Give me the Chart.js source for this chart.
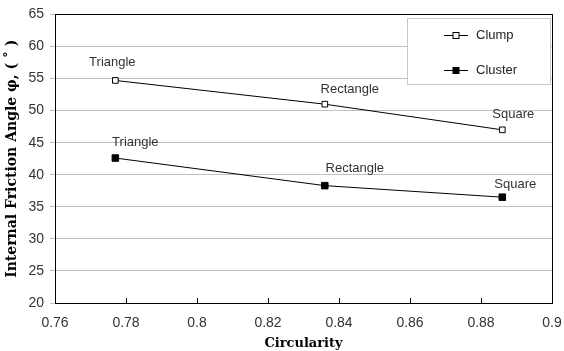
<!DOCTYPE html>
<html>
<head>
<meta charset="utf-8">
<script src="https://cdn.jsdelivr.net/npm/chart.js@4"></script>
<style>
  html, body { margin: 0; padding: 0; background: #fff; }
  #wrap { width: 564px; height: 351px; }
</style>
</head>
<body>
<div id="wrap"><canvas id="chart" width="564" height="351"></canvas></div>
<script>
// circularity of each shape and the friction angles measured for it
const shapes = ["Triangle", "Rectangle", "Square"];
const circularity = [0.777, 0.836, 0.886];
const clumpAngle = [54.7, 51.0, 47.0];
const clusterAngle = [42.6, 38.3, 36.5];

const xTicks = [0.76, 0.78, 0.8, 0.82, 0.84, 0.86, 0.88, 0.9];
const yTicks = [20, 25, 30, 35, 40, 45, 50, 55, 60, 65];

const toPoints = (ys) => circularity.map((x, i) => ({ x: x, y: ys[i] }));

// where each shape name sits relative to its marker
const labelOffsets = {
  Clump: [[-3, -18], [25, -15], [11, -15]],
  Cluster: [[20, -16], [30, -17], [13, -13]],
};

const frame = {
  id: "frame",
  beforeDatasetsDraw(chart) {
    const { ctx, chartArea: a, scales } = chart;
    ctx.save();
    ctx.strokeStyle = "#000";
    ctx.lineWidth = 1;
    // short ticks pointing into the plot along the bottom edge
    ctx.beginPath();
    xTicks.forEach((v) => {
      const px = Math.round(scales.x.getPixelForValue(v)) + 0.5;
      ctx.moveTo(px, a.bottom - 5);
      ctx.lineTo(px, a.bottom);
    });
    ctx.stroke();
    ctx.strokeRect(Math.round(a.left) + 0.5, Math.round(a.top) + 0.5,
      Math.round(a.right - a.left), Math.round(a.bottom - a.top));
    ctx.restore();
  },
  afterDatasetsDraw(chart) {
    const { ctx, scales } = chart;
    ctx.save();
    ctx.font = "13px 'Liberation Sans', Arial, sans-serif";
    ctx.fillStyle = "#333";
    ctx.textAlign = "center";
    ctx.textBaseline = "middle";
    chart.data.datasets.forEach((ds) => {
      ds.data.forEach((p, i) => {
        const off = labelOffsets[ds.label][i];
        ctx.fillText(shapes[i], scales.x.getPixelForValue(p.x) + off[0],
          scales.y.getPixelForValue(p.y) + off[1]);
      });
    });

    // legend box in the upper right corner
    const bx = 407.5, by = 18.5, bw = 143, bh = 66;
    ctx.fillStyle = "#fff";
    ctx.fillRect(bx, by, bw, bh);
    ctx.strokeStyle = "#c8c8c8";
    ctx.strokeRect(bx, by, bw, bh);
    chart.data.datasets.forEach((ds, i) => {
      const y = 35.5 + i * 35;
      ctx.strokeStyle = "#000";
      ctx.beginPath();
      ctx.moveTo(444, y);
      ctx.lineTo(468, y);
      ctx.stroke();
      ctx.fillStyle = ds.pointBackgroundColor;
      ctx.fillRect(453, y - 3, 6, 6);
      ctx.strokeRect(453, y - 3, 6, 6);
      ctx.fillStyle = "#222";
      ctx.textAlign = "left";
      ctx.fillText(ds.label, 476, y);
    });
    ctx.restore();
  },
};

const titleFont = { family: "'DejaVu Serif', serif", weight: "bold", size: 13 };
const tickFont = { family: "'Liberation Sans', Arial, sans-serif", size: 14 };

new Chart(document.getElementById("chart"), {
  type: "line",
  data: {
    datasets: [
      {
        label: "Clump",
        data: toPoints(clumpAngle),
        borderColor: "#000",
        borderWidth: 1,
        pointStyle: "rect",
        pointRadius: 4,
        pointBorderWidth: 1,
        pointBackgroundColor: "#fff",
        pointBorderColor: "#000",
      },
      {
        label: "Cluster",
        data: toPoints(clusterAngle),
        borderColor: "#000",
        borderWidth: 1,
        pointStyle: "rect",
        pointRadius: 4.6,
        pointBorderWidth: 1,
        pointBackgroundColor: "#000",
        pointBorderColor: "#000",
      },
    ],
  },
  options: {
    responsive: false,
    animation: false,
    layout: { padding: { top: 13, right: 12, left: 0, bottom: 0 } },
    plugins: { legend: { display: false }, tooltip: { enabled: false } },
    scales: {
      x: {
        type: "linear",
        min: 0.76,
        max: 0.9,
        afterBuildTicks: (s) => { s.ticks = xTicks.map((v) => ({ value: v })); },
        afterFit: (s) => {
          s.height = 48;
          s.paddingLeft = 0;
          s.paddingRight = 0;
        },
        ticks: {
          font: tickFont,
          color: "#333",
          padding: 12,
          minRotation: 0,
          maxRotation: 0,
          autoSkip: false,
          callback: (v) => String(+v.toFixed(2)),
        },
        grid: { drawOnChartArea: false, drawTicks: false },
        border: { display: false },
        title: {
          display: true,
          text: "Circularity",
          font: titleFont,
          color: "#000",
          padding: { top: 3, bottom: 0 },
        },
      },
      y: {
        min: 20,
        max: 65,
        afterBuildTicks: (s) => { s.ticks = yTicks.map((v) => ({ value: v })); },
        afterFit: (s) => { s.width = 55; },
        ticks: { font: tickFont, color: "#333", padding: 6 },
        grid: { color: "#c0c0c0", tickLength: 5 },
        border: { display: false },
        title: {
          display: true,
          text: "Internal Friction Angle φ, ( ˚ )",
          font: { ...titleFont, size: 14 },
          color: "#000",
          padding: { top: 4, bottom: 0 },
        },
      },
    },
  },
  plugins: [frame],
});
</script>
</body>
</html>
